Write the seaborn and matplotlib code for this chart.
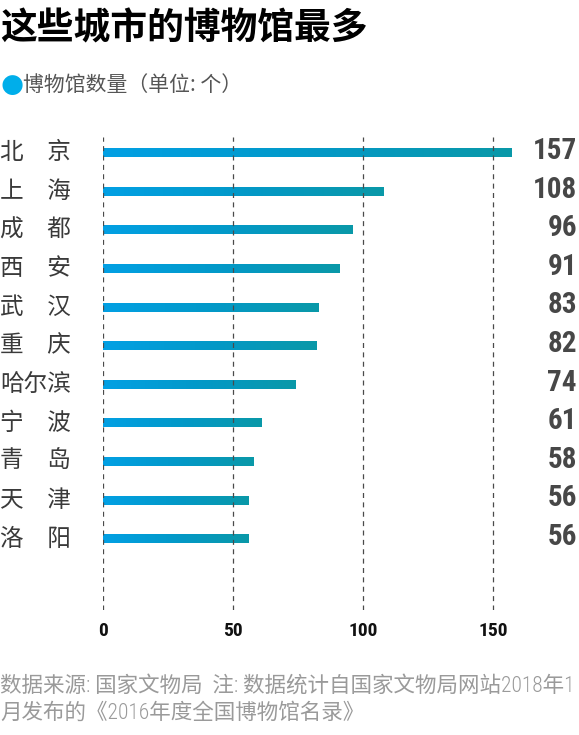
import matplotlib
matplotlib.use("Agg")
import matplotlib.pyplot as plt
from matplotlib import font_manager
from matplotlib.colors import LinearSegmentedColormap
import seaborn as sns
import numpy as np
import pandas as pd

cities = ["北　京", "上　海", "成　都", "西　安", "武　汉", "重　庆", "哈尔滨", "宁　波", "青　岛", "天　津", "洛　阳"]
counts = [157, 108, 96, 91, 83, 82, 74, 61, 58, 56, 56]
ticks = [0, 50, 100, 150]

title = "这些城市的博物馆最多"
legend_label = "博物馆数量（单位: 个）"
note_lines = ["数据来源: 国家文物局  注: 数据统计自国家文物局网站2018年1",
              "月发布的《2016年度全国博物馆名录》"]

sns.set_style("white")
plt.rcParams['font.family'] = ['Noto Sans CJK SC', 'DejaVu Sans']


# narrow sans families for the digits, in order of preference
def find_narrow(bold):
    wanted = ["Liberation Sans Narrow", "Roboto Condensed", "Open Sans Condensed",
              "Noto Sans Condensed", "DejaVu Sans Condensed"]
    fonts = font_manager.fontManager.ttflist
    for name in wanted:
        for f in fonts:
            is_bold = f.weight in ("bold", 700, 600, "semibold")
            if f.name == name and is_bold == bold and f.style == "normal":
                return f
    for f in fonts:
        if "Sans" in f.name and f.stretch == "condensed" and (f.weight in ("bold", 700)) == bold:
            return f
    return None


nb = find_narrow(True)
nr = find_narrow(False)
num_font = font_manager.FontProperties(fname=nb.fname) if nb else \
    font_manager.FontProperties(family="DejaVu Sans", weight="bold")
foot_family = ([nr.name] if nr else []) + ['Noto Sans CJK SC', 'DejaVu Sans']

W, H = 579, 735
fig = plt.figure(figsize=(W / 100, H / 100), dpi=100)

# axes placed in pixel coords: x 0 at 103px, 150 at 493px; y rows 153..539
ax_left, ax_right = 103, 103 + 160 * 2.6
ax_top, ax_bottom = 137, 610
ax = fig.add_axes([ax_left / W, 1 - ax_bottom / H, (ax_right - ax_left) / W, (ax_bottom - ax_top) / H])

df = pd.DataFrame({"city": cities, "count": counts})
sns.barplot(data=df, x="count", y="city", orient="h", color="#06a0e0", width=0.22, ax=ax, zorder=3)

# gradient fill for each bar
cmap = LinearSegmentedColormap.from_list("bar", ["#02a0e4", "#0399c8", "#0a98a8"])
grad = np.linspace(0, 1, 256).reshape(1, -1)
for p in ax.patches:
    x0, y0 = p.get_x(), p.get_y()
    w, h = p.get_width(), p.get_height()
    ax.imshow(grad, cmap=cmap, aspect="auto", extent=(x0, x0 + w, y0 + h, y0), zorder=4)
    p.set_visible(False)
ax.set_xlim(0, 160)
ax.set_ylim(len(cities) - 1 + 1.84, -0.41)

# dashed grid drawn over the bars
for t in ticks:
    ax.axvline(t, color="#4a4a4a", linestyle=(0, (4, 3.5)), linewidth=0.9, zorder=5)

for s in ax.spines.values():
    s.set_visible(False)
ax.set_xlabel("")
ax.set_ylabel("")
ax.set_yticks([])
ax.set_xticks(ticks)
ax.set_xticklabels([str(t) for t in ticks], fontproperties=num_font, fontsize=14, color="#111111")
ax.tick_params(axis="x", length=0, pad=9)

# city labels and values
for i, (c, v) in enumerate(zip(cities, counts)):
    ax.text(-103 / 2.6, i, c, ha="left", va="center", fontsize=17, color="#3a3a3a",
            fontweight="light", clip_on=False)
    fig.text(577 / W, 1 - (151 + i * 38.6) / H, str(v), ha="right", va="center",
             fontproperties=num_font, fontsize=21, color="#474747")

fig.text(0, 1 - 29 / H, title, ha="left", va="center", fontsize=26.5, fontweight="bold", color="#000000")
fig.text(12 / W, 1 - 85 / H, "●", ha="center", va="center", fontsize=19, color="#00aeea", family=['DejaVu Sans'])
fig.text(23 / W, 1 - 85 / H, legend_label, ha="left", va="center", fontsize=15, color="#555555", fontweight="light")

fig.text(0, 1 - 686 / H, note_lines[0], ha="left", va="center", fontsize=15.5, color="#9a9a9a",
         family=foot_family, fontweight="light")
fig.text(0, 1 - 713 / H, note_lines[1], ha="left", va="center", fontsize=15.5, color="#9a9a9a",
         family=foot_family, fontweight="light")

fig.savefig("out.png", dpi=100)
